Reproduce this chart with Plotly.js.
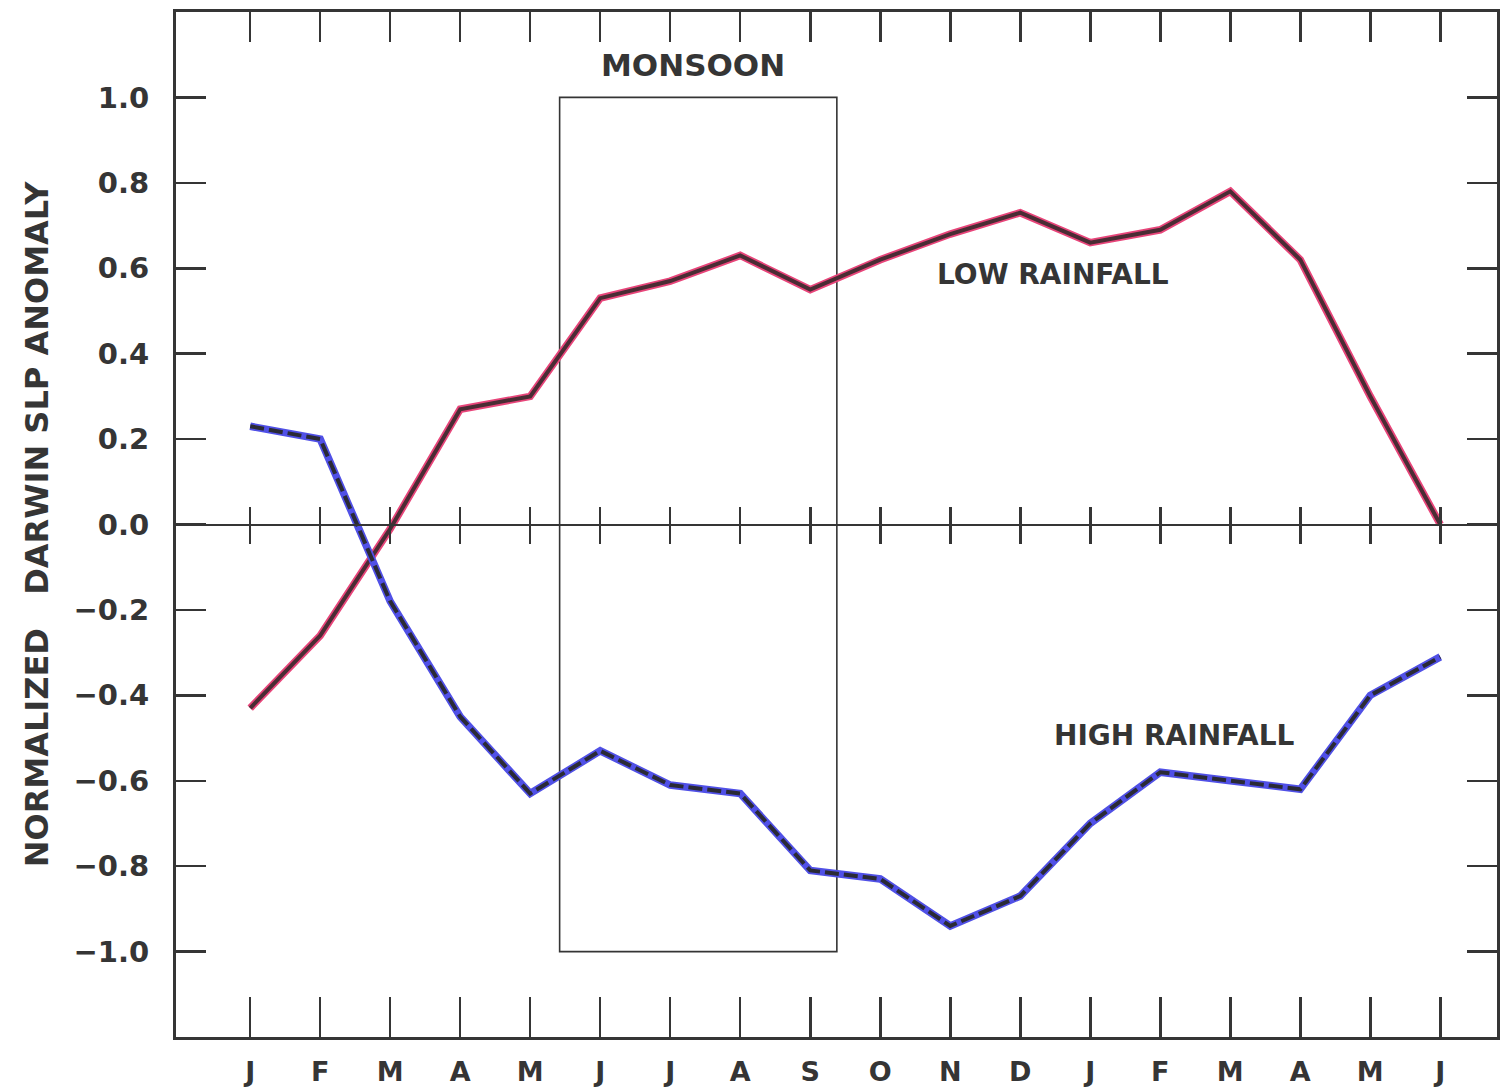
<!DOCTYPE html>
<html>
<head>
<meta charset="utf-8">
<script src="https://cdn.plot.ly/plotly-3.0.1.min.js"></script>
<style>html,body{margin:0;padding:0;background:#fff;}#chart{width:1501px;height:1089px;}</style>
</head>
<body>
<div id="chart"></div>
<script>
// Month index (18 months, Jan of year 0 to Jun of year +1)
const monthIndex = [0,1,2,3,4,5,6,7,8,9,10,11,12,13,14,15,16,17];
const monthLabels = ["J","F","M","A","M","J","J","A","S","O","N","D","J","F","M","A","M","J"];

// Normalized Darwin SLP anomaly composites
const lowRainfall  = [-0.43,-0.26,-0.01,0.27,0.30,0.53,0.57,0.63,0.55,0.62,0.68,0.73,0.66,0.69,0.78,0.62,0.30,0.00];
const highRainfall = [0.23,0.20,-0.18,-0.45,-0.63,-0.53,-0.61,-0.63,-0.81,-0.83,-0.94,-0.87,-0.70,-0.58,-0.60,-0.62,-0.40,-0.31];

const yTickVals  = [-1.0,-0.8,-0.6,-0.4,-0.2,0.0,0.2,0.4,0.6,0.8,1.0];
const yTickText  = ["\u22121.0","\u22120.8","\u22120.6","\u22120.4","\u22120.2","0.0","0.2","0.4","0.6","0.8","1.0"];

// Monsoon season box (JJAS) and labels
const monsoonStart = 4.42, monsoonEnd = 8.38, monsoonLow = -1.0, monsoonHigh = 1.0;

const ink = "#353535";
const FONT = "DejaVu Sans, Arial, sans-serif";

const traces = [
  {x: monthIndex, y: lowRainfall, mode: "lines", line: {color: "#e8457a", width: 7.5}, hoverinfo: "skip", showlegend: false},
  {x: monthIndex, y: lowRainfall, mode: "lines", line: {color: "#4a2c34", width: 4}, name: "LOW RAINFALL", showlegend: false},
  {x: monthIndex, y: highRainfall, mode: "lines", line: {color: "#5050e6", width: 7.5}, hoverinfo: "skip", showlegend: false},
  {x: monthIndex, y: highRainfall, mode: "lines", line: {color: "#2a2a36", width: 4, dash: "14px,5px"}, name: "HIGH RAINFALL", showlegend: false}
];

const xr = [-1.06, 17.81];
const layout = {
  width: 1501, height: 1089,
  margin: {l: 176, r: 4, t: 12, b: 52},
  paper_bgcolor: "#ffffff", plot_bgcolor: "#ffffff",
  font: {family: FONT, color: ink, size: 28, weight: "bold"},
  showlegend: false,
  xaxis: {
    range: xr, tickvals: monthIndex, ticktext: monthLabels,
    ticks: "inside", ticklen: 40, tickwidth: 2.5, tickcolor: ink,
    showline: true, linecolor: ink, linewidth: 3, mirror: false,
    showgrid: false, zeroline: false,
    tickfont: {family: FONT, size: 27, color: ink, weight: "bold"},
    ticklabelstandoff: 9
  },
  xaxis2: {
    range: xr, overlaying: "x", anchor: "free", position: 0.5, side: "bottom",
    tickvals: monthIndex, showticklabels: false,
    ticks: "outside", ticklen: 18, tickwidth: 2.5, tickcolor: ink,
    showline: true, linecolor: ink, linewidth: 2.5, showgrid: false, zeroline: false
  },
  xaxis3: {
    range: xr, overlaying: "x", anchor: "free", position: 0.5, side: "top",
    tickvals: monthIndex, showticklabels: false,
    ticks: "outside", ticklen: 18, tickwidth: 2.5, tickcolor: ink,
    showline: false, showgrid: false, zeroline: false
  },
  xaxis4: {
    range: xr, overlaying: "x", anchor: "y", side: "top",
    tickvals: monthIndex, showticklabels: false,
    ticks: "inside", ticklen: 30, tickwidth: 2.5, tickcolor: ink,
    showline: true, linecolor: ink, linewidth: 3, showgrid: false, zeroline: false
  },
  yaxis: {
    range: [-1.2, 1.2], tickvals: yTickVals, ticktext: yTickText,
    ticks: "inside", ticklen: 30, tickwidth: 2.5, tickcolor: ink,
    showline: true, linecolor: ink, linewidth: 3, mirror: "ticks",
    showgrid: false, zeroline: false,
    tickfont: {family: FONT, size: 29, color: ink, weight: "bold"},
    ticklabelstandoff: 18,
    title: {text: "NORMALIZED\u00a0\u00a0 DARWIN SLP ANOMALY", font: {family: FONT, size: 32, color: ink, weight: "bold"}, standoff: 16}
  },
  shapes: [
    {type: "rect", xref: "x", yref: "y", x0: monsoonStart, x1: monsoonEnd, y0: monsoonLow, y1: monsoonHigh,
     line: {color: ink, width: 1.6}, fillcolor: "rgba(0,0,0,0)", layer: "below"}
  ],
  annotations: [
    {x: 6.33, y: 1.075, xref: "x", yref: "y", text: "MONSOON", showarrow: false,
     font: {family: FONT, size: 31, color: ink, weight: "bold"}},
    {x: 11.47, y: 0.585, xref: "x", yref: "y", text: "LOW RAINFALL", showarrow: false,
     font: {family: FONT, size: 28, color: ink, weight: "bold"}},
    {x: 13.2, y: -0.495, xref: "x", yref: "y", text: "HIGH RAINFALL", showarrow: false,
     font: {family: FONT, size: 28, color: ink, weight: "bold"}}
  ]
};

// bind extra axes to the plot by adding invisible traces on them
traces.push({x: [monthIndex[0]], y: [lowRainfall[0]], xaxis: "x2", mode: "markers", marker: {opacity: 0}, hoverinfo: "skip", showlegend: false});
traces.push({x: [monthIndex[0]], y: [lowRainfall[0]], xaxis: "x3", mode: "markers", marker: {opacity: 0}, hoverinfo: "skip", showlegend: false});
traces.push({x: [monthIndex[0]], y: [lowRainfall[0]], xaxis: "x4", mode: "markers", marker: {opacity: 0}, hoverinfo: "skip", showlegend: false});

Plotly.newPlot("chart", traces, layout, {staticPlot: true});
</script>
</body>
</html>
